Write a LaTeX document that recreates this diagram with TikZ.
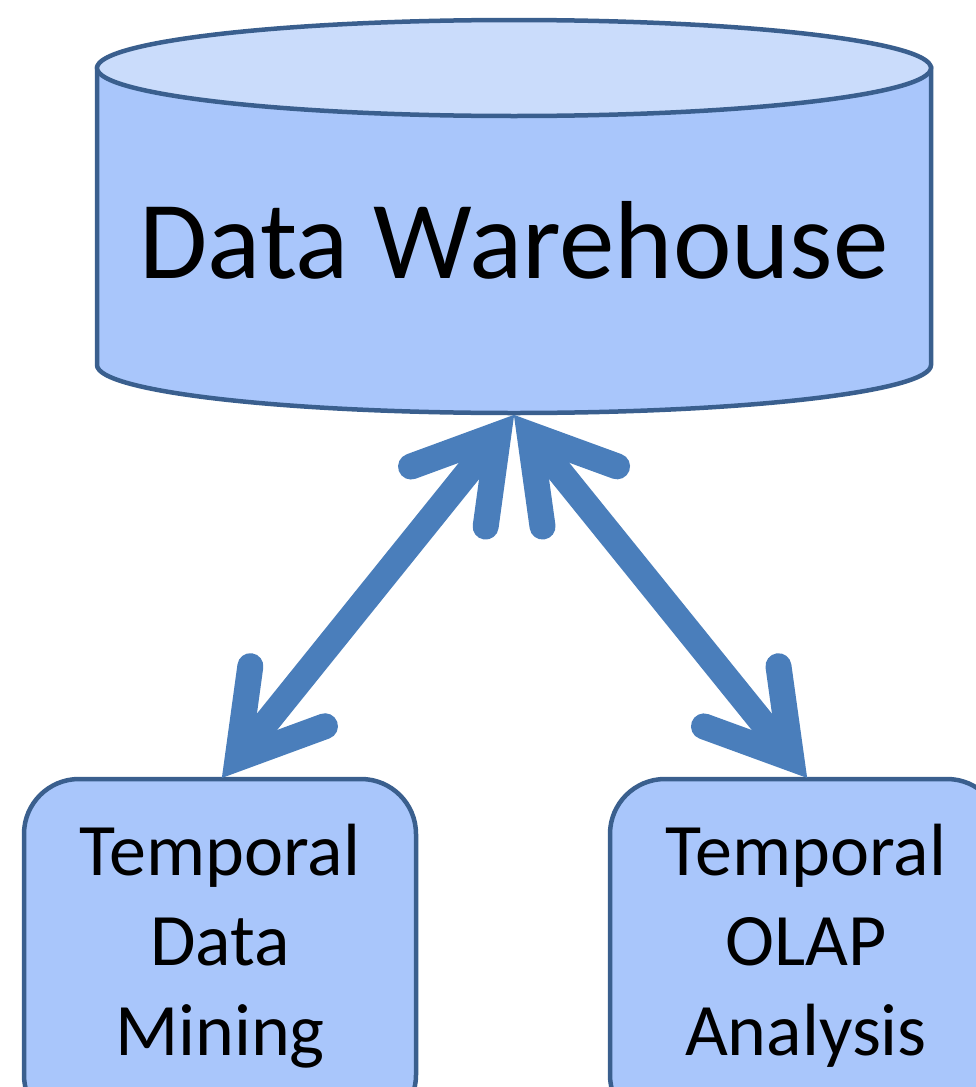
\documentclass[tikz,border=0pt]{standalone}
\usepackage{fontspec}
\setmainfont{Carlito}
\usetikzlibrary{calc}
\definecolor{bodyfill}{HTML}{A9C6FB}
\definecolor{topfill}{HTML}{CADCFB}
\definecolor{edgec}{HTML}{3A5F8E}
\definecolor{arrowc}{HTML}{4A7EBB}
\newcommand\dblarr[2]{%
  \coordinate (va) at ($(#1)!25pt!(#2)$);
  \coordinate (vb) at ($(#2)!25pt!(#1)$);
  \draw[arrowline, line cap=butt] (va) -- (vb);
  \draw[arrowline] ($(va)!93pt!31:(vb)$) -- (va) -- ($(va)!93pt!-31:(vb)$);
  \draw[arrowline] ($(vb)!93pt!31:(va)$) -- (vb) -- ($(vb)!93pt!-31:(va)$);
}
\begin{document}
\begin{tikzpicture}[x=1pt,y=-1pt,
  edgeline/.style={draw=edgec, line width=4.5pt},
  boxstyle/.style={edgeline, fill=bodyfill, rounded corners=55pt, rectangle,
    minimum width=392pt, minimum height=351pt, inner sep=0pt},
  bigtext/.style={font=\fontsize{111}{133}\selectfont, inner sep=0pt},
  boxtext/.style={font=\fontsize{74}{90}\selectfont, align=center, inner sep=0pt},
  arrowline/.style={draw=arrowc, line width=26pt, line cap=round, line join=miter}]
\useasboundingbox (0,0) rectangle (976,1087);
\clip (0,0) rectangle (976,1087);
% cylinder
\path[edgeline, fill=bodyfill] (97,68) -- (97,365)
  arc[start angle=180, end angle=0, x radius=417, y radius=48] -- (931,68) -- cycle;
\path[edgeline, fill=topfill] (514,68) ellipse[x radius=417, y radius=48];
\node[bigtext, anchor=base] (dw) at (514,278) {Data Warehouse};
\coordinate (dwb) at (514,415);
% boxes
\node[boxstyle] (tdm) at (220,954.5) {};
\node[boxstyle] (tolap) at (806,954.5) {};
\node[boxtext] (tdmtext) at (220,946) {Temporal\\Data\\Mining};
\node[boxtext] (tolaptext) at (806,946) {Temporal\\OLAP\\Analysis};
\coordinate (tdmtop) at ($(tdm.north)+(2,1)$);
\coordinate (tolaptop) at ($(tolap.north)+(1,1)$);
% arrows
\dblarr{dwb}{tdmtop}
\dblarr{dwb}{tolaptop}
\end{tikzpicture}
\end{document}
